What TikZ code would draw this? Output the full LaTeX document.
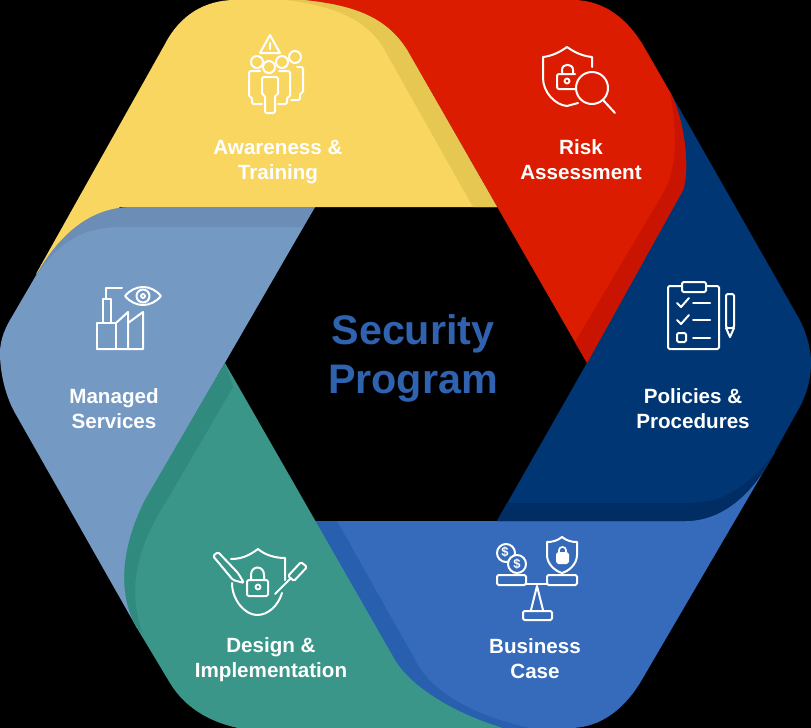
\documentclass[tikz,border=0pt]{standalone}
\usepackage{fontspec}
\setmainfont{Liberation Sans}
\definecolor{sunny}{HTML}{F8D660}
\definecolor{sunnydark}{HTML}{E6C752}
\definecolor{crimson}{HTML}{DC1C00}
\definecolor{crimsondark}{HTML}{C81400}
\definecolor{navy}{HTML}{003673}
\definecolor{navydark}{HTML}{002D63}
\definecolor{royal}{HTML}{356BBA}
\definecolor{royaldark}{HTML}{285FAF}
\definecolor{teal}{HTML}{3A9688}
\definecolor{tealdark}{HTML}{308B7E}
\definecolor{steel}{HTML}{7499C3}
\definecolor{steeldark}{HTML}{6C8DB5}
\definecolor{title}{HTML}{2F63B0}
\tikzset{
  steplabel/.style={font=\bfseries\fontsize{20.6}{25}\selectfont,
                    text=white,align=center,inner sep=0pt},
  icon/.style={draw=white,line width=2pt,line join=round,line cap=round},
  iconbox/.style={icon,rounded corners=1.5pt},
}
\begin{document}
\begin{tikzpicture}[x=1pt,y=-1pt]
    \useasboundingbox (0,0) rectangle (811,728);
    \fill[black] (0,0) rectangle (811,728);

    % Segments
    \fill[royal] (300,521) -- (690,521) -- (775,452) -- (640,683)
      .. controls (620,715) and (595,728) .. (570,728) -- (380,728) -- cycle;
    \fill[royaldark] (300,521) -- (337,521) -- (418,665)
      .. controls (432,690) and (470,715) .. (530,728) -- (420,728) -- cycle;

    \fill[navy] (497,521) -- (600,340) -- (670,92) -- (797,315)
      .. controls (806,330) and (811,348) .. (811,363)
      .. controls (811,380) and (806,397) .. (797,412) -- (773,455)
      .. controls (755,490) and (725,521) .. (685,521) -- cycle;
    \fill[navydark] (497,521) -- (507,503) -- (690,503)
      .. controls (725,503) and (750,485) .. (775,452)
      .. controls (755,490) and (725,521) .. (685,521) -- cycle;

    \fill[crimson] (303,0) -- (573,0) .. controls (605,0) and (628,20) .. (643,45)
      -- (670,92) .. controls (685,120) and (690,170) .. (683,190)
      -- (587,363) -- (407,50) .. controls (385,15) and (350,5) .. (303,0) -- cycle;
    \fill[crimsondark] (670,92) .. controls (685,120) and (690,170) .. (683,190)
      -- (587,363) -- (575,342) -- (665,190)
      .. controls (680,160) and (675,120) .. (670,92) -- cycle;

    \fill[sunny] (36,274) -- (165,44) .. controls (180,15) and (205,0) .. (235,0)
      -- (303,0) .. controls (350,5) and (385,15) .. (407,50) -- (497,207)
      -- (120,207) -- cycle;
    \fill[sunnydark] (285,0) -- (303,0) .. controls (350,5) and (385,15) .. (407,50)
      -- (497,207) -- (473,207) -- (383,47)
      .. controls (365,18) and (330,5) .. (285,0) -- cycle;

    \fill[steel] (133,207) -- (315,207) -- (160,475) -- (160,560) -- (137,628)
      -- (15,413) .. controls (5,395) and (0,372) .. (0,353)
      .. controls (0,343) and (3,332) .. (10,320) -- (38,272)
      .. controls (60,235) and (90,207) .. (133,207) -- cycle;
    \fill[steeldark] (133,207) -- (315,207) -- (303,227) -- (120,227)
      .. controls (80,227) and (55,245) .. (33,281) -- (38,272)
      .. controls (60,235) and (90,207) .. (133,207) -- cycle;

    \fill[teal] (225,363) -- (395,660) .. controls (410,685) and (450,712) .. (503,728)
      -- (238,728) .. controls (210,722) and (185,708) .. (170,683) -- (137,628)
      .. controls (118,595) and (120,550) .. (145,500) -- cycle;
    \fill[tealdark] (225,363) -- (233,387) -- (167,500)
      .. controls (135,550) and (128,590) .. (142,632) -- (137,628)
      .. controls (118,595) and (120,550) .. (145,500) -- cycle;

    % Labels
    \node[steplabel] (awareness) at (278,162) {Awareness \&\\Training};
    \node[steplabel] (risk)      at (581,160) {Risk\\Assessment};
    \node[steplabel] (policies)  at (693,409) {Policies \&\\Procedures};
    \node[steplabel] (business)  at (535,659) {Business\\Case};
    \node[steplabel] (design)    at (271,660) {Design \&\\Implementation};
    \node[steplabel] (managed)   at (114,409) {Managed\\Services};
    \node[font=\bfseries\fontsize{41.3}{49}\selectfont,text=title,align=center,
          inner sep=0pt] (program) at (413,358) {Security\\Program};

    % Awareness icon
    \draw[icon] (270,35) -- (260,53) -- (280,53) -- cycle (270,43) -- (270,49);
    \foreach \cx/\cy in {257/62,282/62,295/57,269/67}
      \draw[icon] (\cx,\cy) circle (6);
    \draw[iconbox] (260,71) -- (249,71) -- (249,97) -- (252,97) -- (252,104) -- (262,104);
    \draw[iconbox] (279,71) -- (290,71) -- (290,97) -- (287,97) -- (287,104) -- (278,104);
    \draw[iconbox] (297,67) -- (303,67) -- (303,93) -- (300,93) -- (300,100) -- (291,100);
    \draw[iconbox] (262,77) -- (278,77) -- (278,95) -- (275,95) -- (275,113) -- (265,113)
      -- (265,95) -- (262,95) -- cycle;

    % Risk icon
    \draw[icon] (592,67) -- (592,57) .. controls (582,56) and (574,52) .. (567,47)
      .. controls (560,52) and (552,56) .. (543,57) -- (543,78)
      .. controls (543,92) and (555,105) .. (567,106) -- (578,103);
    \draw[iconbox] (575,89) -- (557,89) -- (557,74) -- (575,74);
    \draw[icon] (562,74) -- (562,70) .. controls (562,63) and (573,63) .. (573,70) -- (573,74);
    \draw[icon,line width=1.8pt] (567,81) circle (2.5);
    \draw[icon] (592,88) circle (16);
    \draw[icon] (603,100) -- (615,113);

    % Policies icon
    \draw[iconbox] (668,286) rectangle (719,349);
    \draw[iconbox,fill=navy] (682,282) rectangle (706,292);
    \foreach \ly in {303,320}{
      \draw[icon] (677,\ly) -- (681,\ly+4) -- (689,\ly-5);
      \draw[icon] (693,\ly) -- (710,\ly);
    }
    \draw[iconbox] (677,333) rectangle (686,342);
    \draw[icon] (693,338) -- (710,338);
    \draw[iconbox] (726,294) rectangle (734,328);
    \draw[icon] (726,328) -- (730,337) -- (734,328);

    % Business icon
    \draw[icon] (506,553) circle (9);
    \draw[icon,fill=royal] (517,564) circle (9);
    \node[font=\bfseries\fontsize{13}{13}\selectfont,text=white,inner sep=0pt] (coina) at (505,552) {\$};
    \node[font=\bfseries\fontsize{13}{13}\selectfont,text=white,inner sep=0pt] (coinb) at (517,564) {\$};
    \draw[icon] (562,537) .. controls (557,541) and (552,542) .. (547,542) -- (547,555)
      .. controls (547,564) and (555,571) .. (562,573)
      .. controls (569,571) and (577,564) .. (577,555) -- (577,542)
      .. controls (572,542) and (567,541) .. (562,537) -- cycle;
    \draw[iconbox,fill=white] (557,553) rectangle (568,563);
    \draw[icon,line width=1.6pt] (559,553) -- (559,550) .. controls (559,546) and (566,546) .. (566,550) -- (566,553);
    \draw[iconbox] (497,575) rectangle (526,585);
    \draw[iconbox] (547,575) rectangle (577,585);
    \draw[icon] (526,584) -- (547,584);
    \draw[icon] (531,610) -- (537,586) -- (543,610);
    \draw[iconbox] (523,611) rectangle (552,620);

    % Design icon
    \draw[icon] (231,559) .. controls (242,559) and (250,555) .. (258,549)
      .. controls (265,555) and (275,558) .. (285,558) -- (285,580);
    \draw[icon] (232,583) .. controls (232,600) and (245,615) .. (257,615)
      .. controls (268,615) and (278,606) .. (282,593);
    \draw[iconbox] (247,580) rectangle (268,596);
    \draw[icon] (251,580) -- (251,575) .. controls (251,565) and (264,565) .. (264,575) -- (264,580);
    \draw[icon,line width=1.8pt] (258,587) circle (2.5);
    \draw[iconbox] (218,552) -- (213,556) -- (233,580) -- (244,583) -- (238,573) -- cycle;
    \draw[iconbox] (301,562) -- (307,567) -- (294,581) -- (288,576) -- cycle;
    \draw[icon] (291,578) -- (275,594);

    % Managed icon
    \draw[icon,line cap=butt] (97,323) rectangle (116,349);
    \draw[icon,line cap=butt] (103,323) -- (103,299) -- (111,299) -- (111,323);
    \draw[icon] (106,299) -- (106,288) -- (122,288);
    \draw[icon] (116,323) -- (128,312) -- (128,349);
    \draw[icon] (128,323) -- (143,312) -- (143,349) -- (97,349);
    \draw[icon] (125,296) .. controls (135,284) and (151,284) .. (161,296)
      .. controls (151,308) and (135,308) .. (125,296) -- cycle;
    \draw[icon] (143,296) circle (6.5);
    \draw[icon,line width=1.8pt] (143,296) circle (2);

  \end{tikzpicture}
\end{document}
